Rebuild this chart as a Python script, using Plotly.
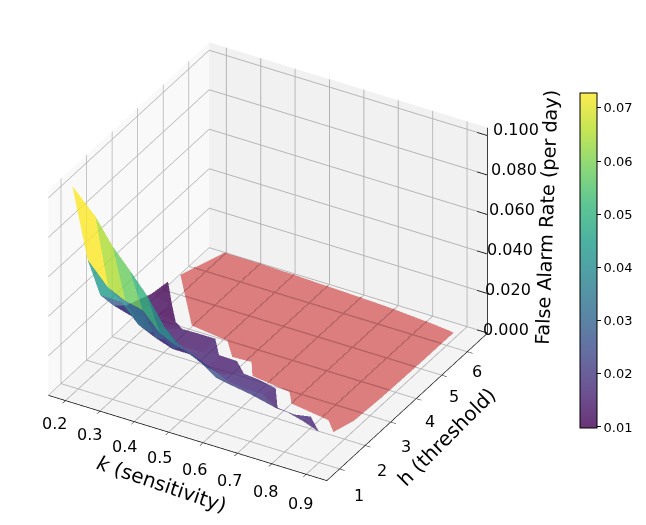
import numpy as np
import plotly.graph_objects as go

# Sensitivity values and, for each one, the thresholds with a measurable false alarm rate.
k_values = [0.19, 0.25, 0.30, 0.35, 0.40, 0.45, 0.50, 0.55, 0.60, 0.65, 0.70, 0.75, 0.80, 0.85, 0.90]
h_by_k = [
    [0.9, 1.5, 2.0, 2.5, 3.0, 3.5, 4.0, 4.65],
    [1.0, 1.5, 2.0, 2.5, 3.0, 3.5, 4.0],
    [1.0, 1.5, 2.0, 2.5, 3.0, 3.47],
    [1.0, 1.5, 2.0, 2.5, 3.05],
    [1.0, 1.5, 2.0, 2.5, 3.0],
    [1.0, 1.5, 2.0, 2.5, 3.0],
    [1.0, 1.5, 2.0, 2.47],
    [1.0, 1.5, 2.0, 2.5],
    [1.0, 1.5, 2.1],
    [1.0, 1.5, 2.05],
    [1.0, 1.5, 2.0],
    [1.0, 1.4],
    [1.0, 1.38],
    [1.0, 1.35],
    [1.0],
]
far_by_k = [
    [0.1035, 0.059, 0.035, 0.024, 0.018, 0.015, 0.012, 0.0105],
    [0.0900, 0.048, 0.035, 0.021, 0.012, 0.011, 0.0095],
    [0.0775, 0.044, 0.026, 0.016, 0.012, 0.010],
    [0.0680, 0.042, 0.022, 0.015, 0.014],
    [0.0580, 0.033, 0.019, 0.014, 0.015],
    [0.0450, 0.029, 0.019, 0.014, 0.015],
    [0.0370, 0.027, 0.015, 0.0157],
    [0.0330, 0.023, 0.014, 0.015],
    [0.0270, 0.019, 0.016],
    [0.0254, 0.018, 0.016],
    [0.0240, 0.018, 0.015],
    [0.0220, 0.0145],
    [0.0210, 0.0145],
    [0.0187, 0.0165],
    [0.0156],
]

# Region where no false alarms occurred: lower and upper threshold bound per sensitivity.
zero_k = [0.152, 0.195, 0.297, 0.411, 0.46, 0.514, 0.549, 0.668, 0.70, 0.82, 0.859, 0.877, 0.882, 0.884, 0.885]
zero_h_low = [5.65, 5.20, 4.14, 4.00, 3.53, 3.56, 3.12, 2.97, 2.62, 2.45, 2.12, 2.69, 3.72, 4.97, 6.47]
zero_h_high = [5.65, 6.79, 6.79, 6.76, 6.74, 6.72, 6.71, 6.66, 6.64, 6.55, 6.51, 6.49, 6.48, 6.47, 6.47]

x_ticks = [0.2, 0.3, 0.4, 0.5, 0.6, 0.7, 0.8, 0.9]
y_ticks = [1, 2, 3, 4, 5, 6]
z_ticks = [0.0, 0.02, 0.04, 0.06, 0.08, 0.10]
bar_ticks = [0.01, 0.02, 0.03, 0.04, 0.05, 0.06, 0.07]
FAR_MIN, FAR_MAX = 0.0098, 0.0728
X_RANGE, Y_RANGE, Z_RANGE = [0.15, 0.96], [0.5, 6.8], [0.0, 0.104]
# Corner of the box that carries the rate axis, a hair inside the clipping bounds.
CORNER_X, CORNER_Y = 0.9595, 6.795

# Both surfaces are triangle meshes, so that every facet keeps one flat colour.
rows = max(len(h) for h in h_by_k)
xs, ys, zs, ii, jj, kk, cell = [], [], [], [], [], [], []
for kv, hs, fs in zip(k_values, h_by_k, far_by_k):
    for r in range(rows):
        xs.append(kv)
        ys.append(hs[min(r, len(hs) - 1)])
        zs.append(fs[min(r, len(fs) - 1)])
for c in range(len(k_values) - 1):
    for r in range(rows - 1):
        a, b = c * rows + r, c * rows + r + 1
        d, e = (c + 1) * rows + r, (c + 1) * rows + r + 1
        mean = (zs[a] + zs[b] + zs[d] + zs[e]) / 4
        ii += [a, b]
        jj += [d, d]
        kk += [b, e]
        cell += [mean, mean]

zx, zy, zz, zi, zj, zk = [], [], [], [], [], []
for kv, lo, hi in zip(zero_k, zero_h_low, zero_h_high):
    zx += [kv, kv]
    zy += [lo, hi]
    zz += [0.0, 0.0]
for c in range(len(zero_k) - 1):
    a = 2 * c
    zi += [a, a + 1]
    zj += [a + 2, a + 2]
    zk += [a + 1, a + 3]

flat = dict(ambient=1.0, diffuse=0.0, specular=0.0, roughness=1.0, fresnel=0.0)

fig = go.Figure()
fig.add_trace(go.Mesh3d(
    x=zx, y=zy, z=zz, i=zi, j=zj, k=zk,
    color="rgb(205,48,48)", opacity=0.6,
    lighting=flat, flatshading=True, hoverinfo="skip", showscale=False,
))
fig.add_trace(go.Mesh3d(
    x=xs, y=ys, z=zs, i=ii, j=jj, k=kk,
    intensity=cell, intensitymode="cell",
    colorscale="Viridis", cmin=FAR_MIN, cmax=FAR_MAX,
    opacity=0.8, lighting=flat, flatshading=True, showscale=False,
))

# Floor grid seen through the zero-rate patch, trimmed to the patch outline.
gx, gy = [], []
for t in x_ticks:
    if zero_k[0] <= t <= zero_k[-1]:
        gx += [t, t, None]
        gy += [float(np.interp(t, zero_k, zero_h_low)), float(np.interp(t, zero_k, zero_h_high)), None]
fine_k = np.linspace(zero_k[0], zero_k[-1], 600)
fine_low = np.interp(fine_k, zero_k, zero_h_low)
fine_high = np.interp(fine_k, zero_k, zero_h_high)
for t in y_ticks:
    inside = (fine_low <= t) & (t <= fine_high)
    for i, kv in enumerate(fine_k):
        if inside[i]:
            if i == 0 or not inside[i - 1] or i == len(fine_k) - 1 or not inside[i + 1]:
                gx.append(float(kv))
                gy.append(t)
                if i > 0 and inside[i - 1]:
                    gx.append(None)
                    gy.append(None)
fig.add_trace(go.Scatter3d(
    x=gx, y=gy, z=[None if v is None else 0.0003 for v in gx], mode="lines",
    line=dict(color="rgb(176,92,92)", width=2), hoverinfo="skip", showlegend=False,
))

# The rate axis runs up the right-hand corner, with short ticks on the back wall.
ax, ay, az = [CORNER_X, CORNER_X], [CORNER_Y, CORNER_Y], [Z_RANGE[0] + 1e-5, Z_RANGE[1] - 1e-5]
for t in z_ticks:
    ax += [None, CORNER_X - 0.03, CORNER_X]
    ay += [None, CORNER_Y, CORNER_Y]
    az += [None, t + 1e-5, t + 1e-5]
fig.add_trace(go.Scatter3d(
    x=ax, y=ay, z=az, mode="lines", line=dict(color="black", width=1.5),
    hoverinfo="skip", showlegend=False,
))

# Colour key, paled the way the translucent surface is.
viridis = ["#440154", "#482878", "#3e4989", "#31688e", "#26828e",
           "#1f9e89", "#35b779", "#6ece58", "#b5de2b", "#fde725"]
def pale(hex_colour):
    rgb = [int(hex_colour[i:i + 2], 16) for i in (1, 3, 5)]
    return "rgb({},{},{})".format(*[round(0.8 * v + 0.2 * 255) for v in rgb])
fig.add_trace(go.Scatter3d(
    x=[None], y=[None], z=[None], mode="markers",
    marker=dict(
        color=[FAR_MIN], cmin=FAR_MIN, cmax=FAR_MAX, showscale=True,
        colorscale=[[i / 9, pale(c)] for i, c in enumerate(viridis)],
        colorbar=dict(
            thickness=17, len=335, lenmode="pixels", x=580 / 646, xanchor="left",
            y=1 - 93 / 525, yanchor="top", xpad=0, ypad=0,
            outlinecolor="black", outlinewidth=1,
            tickvals=bar_ticks, ticktext=["%.2f" % v for v in bar_ticks],
            ticks="outside", ticklen=4, tickcolor="black",
            tickfont=dict(family="DejaVu Sans", size=13, color="black"),
        ),
    ),
    hoverinfo="skip", showlegend=False,
))

def axis(rng, ticks, wall, drawn=True):
    return dict(
        title=dict(text=""), range=rng, tickmode="array", tickvals=ticks,
        showticklabels=False,
        showbackground=True, backgroundcolor=wall,
        gridcolor="#b4b4b4", gridwidth=2, zeroline=False,
        showline=drawn, linecolor="black", linewidth=1.5,
        ticks="outside" if drawn else "", ticklen=6, tickcolor="black", showspikes=False,
    )

# Labels stay level on the page, so they are placed as scene annotations.
def label(x, y, z, text, dx, dy, size=16, angle=0):
    return dict(
        x=x, y=y, z=z, text=text, showarrow=False, xshift=dx, yshift=-dy,
        textangle=angle, xanchor="center", yanchor="middle",
        font=dict(family="DejaVu Sans", size=size, color="black"),
    )

notes = [label(v, Y_RANGE[0], 0, "%.1f" % v, -11 + (v - 0.2) * 7, 23 + (v - 0.2) * 8.6) for v in x_ticks]
notes += [label(CORNER_X, v, 0, str(v), 19 - (v - 1) * 1.8, 27 - (v - 1) * 1.4) for v in y_ticks]
notes += [label(CORNER_X, CORNER_Y, v, "%.3f" % v, 18.5 + 95 * v, -3 - 30 * v) for v in z_ticks]
notes.append(label(0.55, Y_RANGE[0], 0, "<i>k</i> (sensitivity)", -24, 47, size=20, angle=19))
notes.append(label(CORNER_X, 3.65, 0, "h (threshold)", 39, 30, size=20, angle=-45))
notes.append(label(CORNER_X, CORNER_Y, 0.052, "False Alarm Rate (per day)", 59, -13, size=19.2, angle=-88))

R = 1.71
fig.update_layout(
    width=646, height=525, margin=dict(l=0, r=0, t=0, b=0),
    paper_bgcolor="white", showlegend=False,
    scene=dict(
        domain=dict(x=[0.0, 0.83], y=[0.004, 1.0]),
        aspectmode="manual", aspectratio=dict(x=1.23, y=1.23, z=0.926),
        camera=dict(
            projection=dict(type="orthographic"),
            eye=dict(x=0.424 * R, y=-0.734 * R, z=0.53 * R),
            up=dict(x=0, y=0, z=1), center=dict(x=0, y=0, z=0),
        ),
        xaxis=axis(X_RANGE, x_ticks, "#f9f9f9"),
        yaxis=axis(Y_RANGE, y_ticks, "#f1f1f1"),
        zaxis=axis(Z_RANGE, z_ticks, "#f4f4f4", drawn=False),
        annotations=notes,
    ),
)
fig.write_html("out.html")
